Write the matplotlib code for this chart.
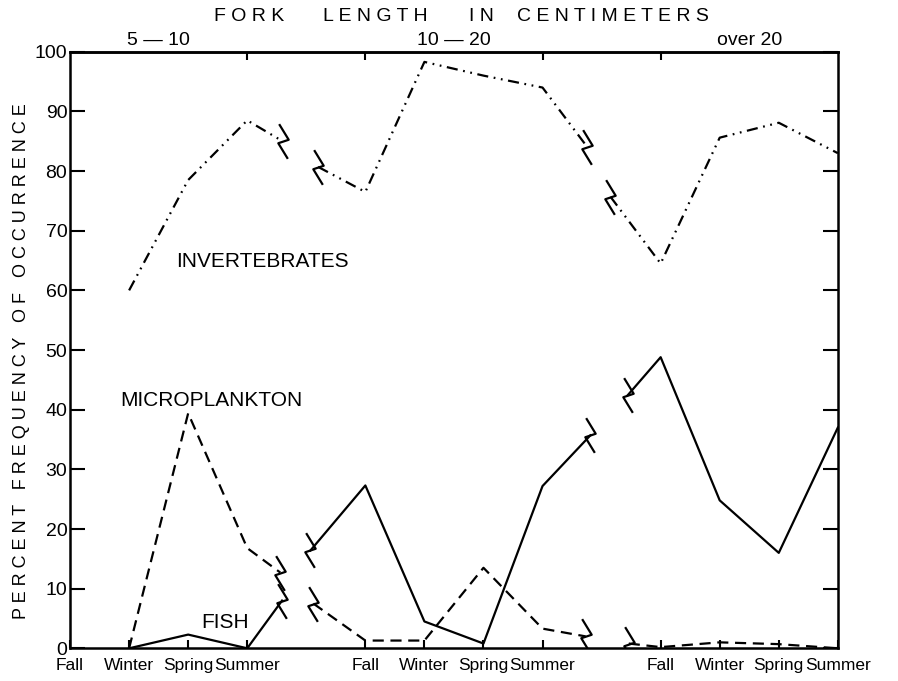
import numpy as np
import matplotlib.pyplot as plt
from matplotlib.path import Path

plt.rcParams['font.family'] = ['Liberation Sans', 'DejaVu Sans']

nan = np.nan

# categories
seasons = ['Fall', 'Winter', 'Spring', 'Summer']
size_groups = ['5 — 10', '10 — 20', 'over 20']

# percent frequency of occurrence, one row per fork length group
inv_vals = [[nan, 60, 78.5, 88.5],
            [76.5, 98.3, 96, 94],
            [64.5, 85.6, 88.1, 83]]
micro_vals = [[nan, 0, 39.4, 16.8],
              [1.3, 1.3, 13.5, 3.3],
              [0.2, 1.0, 0.7, 0]]
fish_vals = [[nan, 0, 2.3, 0],
             [27.3, 4.5, 0.8, 27.2],
             [48.8, 24.8, 16, 37]]

# broken-line stubs between groups (x in season index, value)
inv_out = [(3.6, 85), (8.76, 84)]
inv_in = [(4.2, 80.7), (9.15, 75.7)]
micro_out = [(3.56, 12.7), (8.73, 2.0)]
micro_in = [(4.12, 7.5), (9.46, 0.8)]
fish_out = [(3.59, 8), (8.81, 35.7)]
fish_in = [(4.07, 16.4), (9.44, 42.4)]

fig, ax = plt.subplots(figsize=(8.98, 6.81), dpi=100)
fig.subplots_adjust(left=0.078, right=0.933, bottom=0.048, top=0.924)

# zigzag break symbol
brk = Path([(-0.25, 1), (0.3, 0.1), (-0.3, -0.1), (0.25, -1)],
           [Path.MOVETO, Path.LINETO, Path.LINETO, Path.LINETO])


def draw_series(vals, stub_out, stub_in, ls):
    for g in range(3):
        x = list(g * 5 + np.arange(4))
        y = list(vals[g])
        if g > 0:
            x = [stub_in[g - 1][0]] + x
            y = [stub_in[g - 1][1]] + y
        if g < 2:
            x.append(stub_out[g][0])
            y.append(stub_out[g][1])
        ax.plot(x, y, color='k', lw=1.6, linestyle=ls)
    for bx, by in stub_out + stub_in:
        ax.plot(bx, by, marker=brk, ms=25, mfc='none', mec='k', mew=1.6,
                ls='none')


draw_series(inv_vals, inv_out, inv_in, (0, (5, 2.5, 0.8, 2.5, 0.8, 2.5)))
draw_series(micro_vals, micro_out, micro_in, (0, (5, 3)))
draw_series(fish_vals, fish_out, fish_in, '-')

ax.set_xlim(0, 13)
ax.set_ylim(0, 100)
pos = [g * 5 + s for g in range(3) for s in range(4)]
ax.set_xticks(pos)
ax.set_xticklabels(seasons * 3)
ax.set_yticks(range(0, 101, 10))
ax.tick_params(axis='y', direction='in', length=11, width=1.5, right=True,
               labelsize=14, pad=2)
ax.tick_params(axis='x', direction='in', length=6, width=1.5, labelsize=12.5,
               pad=7)
for s in ax.spines.values():
    s.set_linewidth(1.8)

top = ax.secondary_xaxis('top')
top.set_xticks([3, 5, 8, 10])
top.set_xticklabels([])
top.tick_params(direction='in', length=6, width=1.5)
top.spines['top'].set_linewidth(1.8)

# group labels over the axis
for g, lab in enumerate(size_groups):
    ax.text(g * 5 + 1.5, 1.004, lab, transform=ax.get_xaxis_transform(),
            ha='center', va='bottom', fontsize=14)

# title words, letter-spaced
for word, xc in [('FORK', 3.03), ('LENGTH', 5.17), ('IN', 6.97),
                 ('CENTIMETERS', 9.2)]:
    ax.text(xc, 1.045, ' '.join(word), transform=ax.get_xaxis_transform(),
            ha='center', va='bottom', fontsize=14)

fig.text(0.024, 0.47, '   '.join(' '.join(w) for w in
         ['PERCENT', 'FREQUENCY', 'OF', 'OCCURRENCE']),
         rotation=90, ha='center', va='center', fontsize=13)

# curve labels
ax.text(3.25, 64.8, 'INVERTEBRATES', ha='center', va='center', fontsize=15)
ax.text(2.39, 41.6, 'MICROPLANKTON', ha='center', va='center', fontsize=15)
ax.text(2.63, 4.4, 'FISH', ha='center', va='center', fontsize=15)

plt.savefig('out.png', dpi=100)
